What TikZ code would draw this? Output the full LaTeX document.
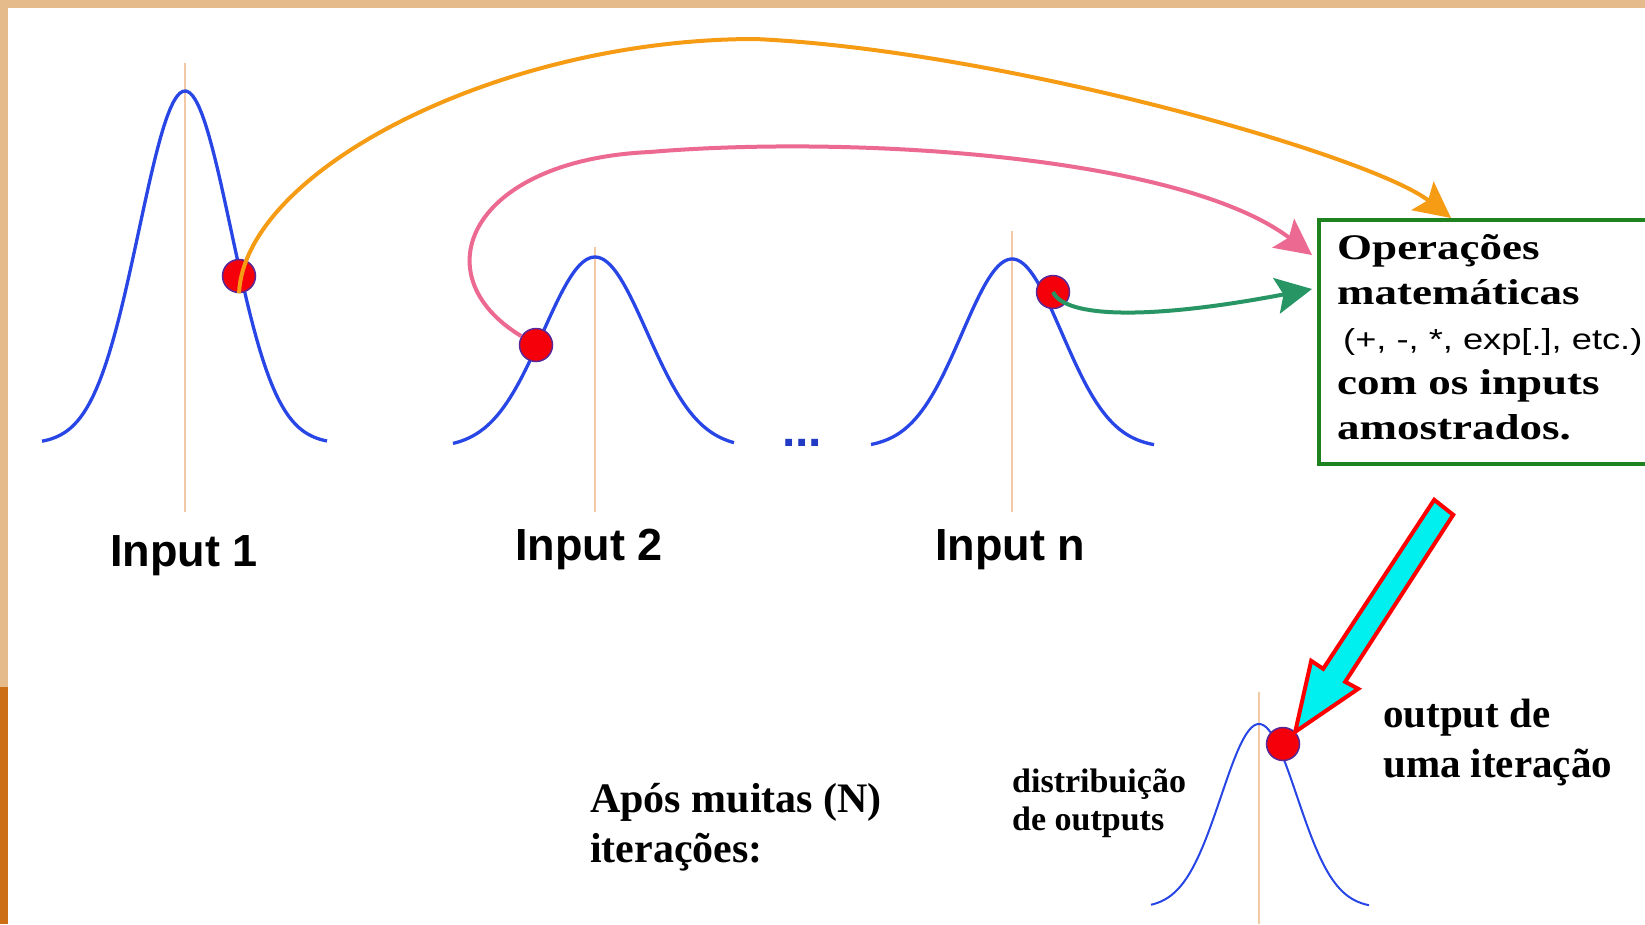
\documentclass[tikz,border=0pt]{standalone}
\usepackage{fontspec}
\setmainfont{Liberation Serif}
\newfontfamily\arialfont{Liberation Sans}
\newfontfamily\widesans[FakeStretch=1.25]{Liberation Sans}
\newfontfamily\wideserif[FakeStretch=1.25]{Liberation Serif}
\usepackage{tikz}
\usetikzlibrary{arrows.meta}

\definecolor{curveblue}{RGB}{40,70,230}
\definecolor{axisorange}{RGB}{242,200,165}
\definecolor{dotred}{RGB}{245,0,10}
\definecolor{dotrim}{RGB}{90,40,150}
\definecolor{arrorange}{RGB}{245,155,20}
\definecolor{arrpink}{RGB}{236,105,145}
\definecolor{arrgreen}{RGB}{40,150,100}
\definecolor{boxgreen}{RGB}{30,130,30}
\definecolor{bandtan}{RGB}{229,187,139}
\definecolor{bandrust}{RGB}{204,110,22}
\definecolor{blockcyan}{RGB}{0,240,240}

\tikzset{
  bellcurve/.style={curveblue, line width=3.3, line join=round},
  axisline/.style={axisorange, line width=1.5},
  sampledot/.style={circle, fill=dotred, draw=dotrim, line width=1.5, minimum size=33, inner sep=0},
  inputlabel/.style={font=\arialfont\bfseries\fontsize{45}{50}\selectfont, inner sep=0, anchor=base},
  notetext/.style={font=\bfseries\fontsize{41}{50}\selectfont, inner sep=0, anchor=base west, align=left},
  opsbox/.style={draw=boxgreen, line width=3.5, fill=white, anchor=north west,
    minimum width=360, minimum height=244, inner sep=0},
  samplearrow/.style={line width=4, -{Stealth[length=36pt, width=36pt, inset=7pt]}}
}

\begin{document}
\begin{tikzpicture}[x=1pt, y=-1pt]
    % Frame of the slide
    \clip (0,0) rectangle (1645,924);
    \fill[white] (0,0) rectangle (1645,924);
    \fill[bandtan] (0,0) rectangle (1645,8);
    \fill[bandtan] (0,0) rectangle (8,687);
    \fill[bandrust] (0,687) rectangle (8,924);

    % Input distributions with their mean lines
    \draw[axisline] (185,63) -- (185,512);
    \draw[bellcurve] plot[domain=42:327, samples=90] (\x, {444-353*exp(-0.5*((\x-185)/46)^2)});
    \draw[axisline] (595,247) -- (595,512);
    \draw[bellcurve] plot[domain=453:734, samples=90] (\x, {448-191*exp(-0.5*((\x-595)/52)^2)});
    \draw[axisline] (1012,231) -- (1012,512);
    \draw[bellcurve] plot[domain=871:1154, samples=90] (\x, {448-189*exp(-0.5*((\x-1012)/50)^2)});

    % Output distribution (thin)
    \draw[axisline, line width=1.2] (1259,692) -- (1259,924);
    \draw[bellcurve, line width=2] plot[domain=1151:1369, samples=90] (\x, {908-184*exp(-0.5*((\x-1259)/38)^2)});

    % Labels under the inputs
    \node[inputlabel] (lab1) at (184,566) {Input 1};
    \node[inputlabel] (lab2) at (589,560) {Input 2};
    \node[inputlabel] (labn) at (1010,560) {Input n};
    \node[font=\arialfont\bfseries\fontsize{48}{50}\selectfont, text=curveblue!85!black, inner sep=0, anchor=base] (dots) at (802,446) {...};

    % Box with the operations (base = last line)
    \node[opsbox] (ops) at (1317,218) {};
    \node[font=\wideserif\bfseries\fontsize{36}{45}\selectfont, inner sep=0, anchor=base west, align=left] (opslines) at (1337,439)
        {Operações\\matemáticas\\{\widesans\mdseries\fontsize{29}{45}\selectfont\hspace*{6pt}(+, -, *, exp[.], etc.)}\\com os inputs\\amostrados.};

    % Pink arrow goes under its dot
    \node[sampledot] (dot2) at (536,345) {};
    \draw[samplearrow, arrpink] (dot2) .. controls (420,275) and (470,160) .. (650,152)
        .. controls (850,135) and (1180,155) .. ([shift={(-5,37)}]ops.north west);

    % Sampled points
    \node[sampledot] (dot1) at (239,276) {};
    \node[sampledot] (dotn) at (1053,292) {};
    \node[sampledot] (dotout) at (1283,744) {};

    % Orange and green arrows
    \draw[samplearrow, arrorange] (dot1.south) .. controls (245,170) and (500,39) .. (755,39)
        .. controls (1000,50) and (1370,155) .. ([xshift=134]ops.north west);
    \draw[samplearrow, arrgreen] (dotn.center) .. controls (1065,318) and (1150,320) .. ([shift={(-5,71)}]ops.north west);

    % Block arrow from the box down to the output point
    \begin{scope}[shift={(dotout.45)}]
        \draw[draw=red, fill=blockcyan, line width=4, line join=miter]
            (0,0) -- (16,-71) -- (28,-63) -- (139,-232) -- (158,-217) -- (50,-50) -- (63,-43) -- cycle;
    \end{scope}

    % Texts near the output (base = last line)
    \node[notetext] (iterlabel) at (1383,777) {output de\\uma iteração};
    \node[notetext, font=\bfseries\fontsize{34}{38}\selectfont] (distlabel) at (1012,830) {distribuição\\de outputs};
    \node[notetext, font=\bfseries\fontsize{42}{50}\selectfont] (afterlabel) at (590,862) {Após muitas (N)\\iterações:};
\end{tikzpicture}
\end{document}
